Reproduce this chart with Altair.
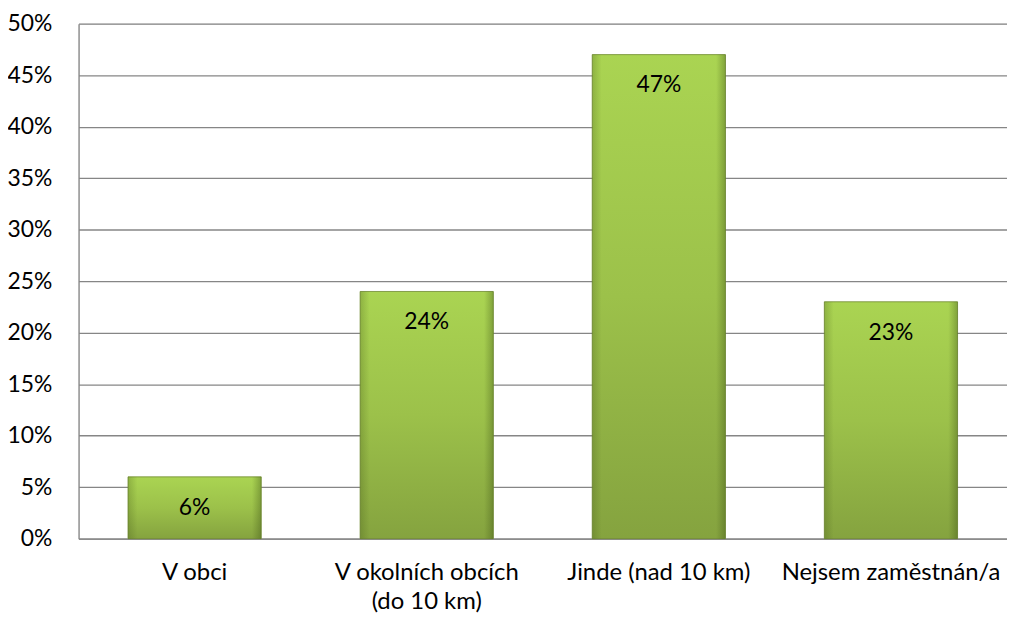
import altair as alt
import pandas as pd

categories = ["V obci", "V okolních obcích (do 10 km)", "Jinde (nad 10 km)", "Nejsem zaměstnán/a"]
values = [0.06, 0.24, 0.47, 0.23]
labels = ["6%", "24%", "47%", "23%"]

df = pd.DataFrame({"cat": categories, "val": values, "lab": labels})

FONT = "Lato"

x = alt.X("cat:N", sort=categories, title=None,
          scale=alt.Scale(paddingInner=0.426, paddingOuter=0.213),
          axis=alt.Axis(labelAngle=0, labelFontSize=24, labelColor="#000000", labelFont=FONT,
                        labelPadding=22, ticks=False, domainColor="#868686", domainWidth=1.3,
                        labelLineHeight=29, labelBaseline="top", labelLimit=0,
                        labelExpr="datum.label == 'V okolních obcích (do 10 km)' ? ['V okolních obcích', '(do 10 km)'] : datum.label"))
y = alt.Y("val:Q", title=None,
          scale=alt.Scale(domain=[0, 0.5]),
          axis=alt.Axis(format=".0%", values=[0, 0.05, 0.1, 0.15, 0.2, 0.25, 0.3, 0.35, 0.4, 0.45, 0.5],
                        labelFontSize=23, labelColor="#000000", labelFont=FONT, labelPadding=27,
                        ticks=False, domainColor="#868686", domainWidth=1.3,
                        gridColor="#868686", gridWidth=1.3))

base_grad = alt.Gradient(gradient="linear", x1=0, x2=0, y1=0, y2=1,
                         stops=[alt.GradientStop(color="#aad452", offset=0),
                                alt.GradientStop(color="#9cc14a", offset=0.5),
                                alt.GradientStop(color="#85a33f", offset=1)])
side_grad = alt.Gradient(gradient="linear", x1=0, x2=1, y1=0, y2=0,
                         stops=[alt.GradientStop(color="rgba(60,80,20,0.25)", offset=0),
                                alt.GradientStop(color="rgba(60,80,20,0)", offset=0.07),
                                alt.GradientStop(color="rgba(60,80,20,0)", offset=0.93),
                                alt.GradientStop(color="rgba(50,70,15,0.35)", offset=1)])

bars = alt.Chart(df).mark_bar(color=base_grad, stroke="#6f8a30", strokeWidth=0.8).encode(x=x, y=y)
sides = alt.Chart(df).mark_bar(color=side_grad).encode(x=x, y=y)
text = alt.Chart(df).mark_text(dy=31, fontSize=23, font=FONT, color="#000000").encode(
    x=alt.X("cat:N", sort=categories), y="val:Q", text="lab:N")

chart = (bars + sides + text).properties(
    width=934, height=518,
    autosize=alt.AutoSizeParams(type="none"),
    padding={"left": 71, "top": 14, "right": 0, "bottom": 75},
).configure_view(stroke=None).configure(background="#ffffff")

chart.save("out.html", embed_options={"renderer": "svg", "actions": False})
